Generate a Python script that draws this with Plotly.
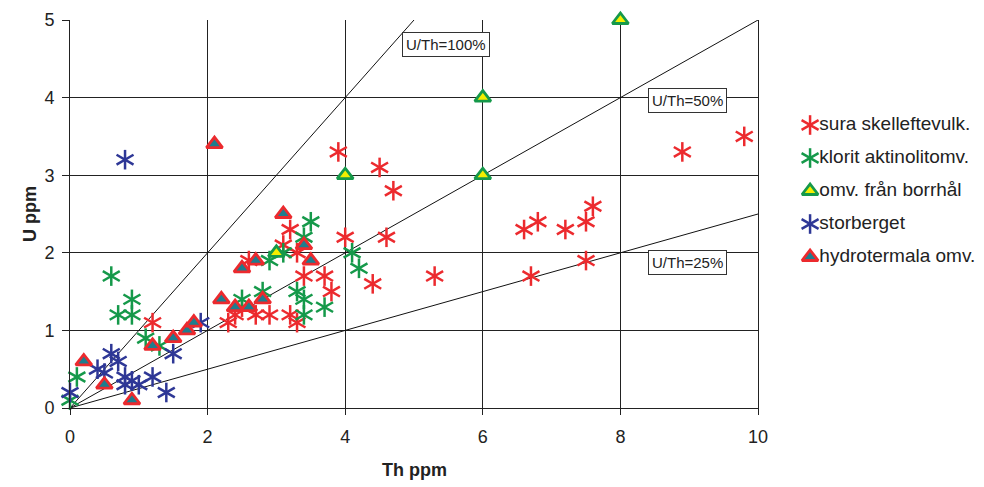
import plotly.graph_objects as go

# ---- data ----
sura_th = [1.2, 2.3, 2.4, 2.5, 2.7, 2.9, 3.2, 3.3, 2.6, 3.1, 3.2, 3.3, 3.4, 3.7, 3.8, 4.0, 4.4, 4.6,
           3.9, 4.5, 4.7, 5.3, 6.6, 6.8, 7.2, 7.5, 7.6, 7.5, 6.7, 8.9, 9.8]
sura_u = [1.1, 1.1, 1.2, 1.3, 1.2, 1.2, 1.2, 1.1, 1.9, 2.1, 2.3, 2.0, 1.7, 1.7, 1.5, 2.2, 1.6, 2.2,
          3.3, 3.1, 2.8, 1.7, 2.3, 2.4, 2.3, 2.4, 2.6, 1.9, 1.7, 3.3, 3.5]

klorit_th = [0.0, 0.1, 0.6, 0.7, 0.9, 0.9, 1.1, 1.3, 2.5, 2.8, 2.9, 3.1, 3.3, 3.4, 3.4, 3.4, 3.5, 3.7, 4.1, 4.2]
klorit_u = [0.1, 0.4, 1.7, 1.2, 1.2, 1.4, 0.9, 0.8, 1.4, 1.5, 1.9, 2.0, 1.5, 1.4, 1.2, 2.2, 2.4, 1.3, 2.0, 1.8]

borr_th = [3.0, 4.0, 6.0, 6.0, 8.0]
borr_u = [2.0, 3.0, 4.0, 3.0, 5.0]

storb_th = [0.0, 0.4, 0.5, 0.6, 0.7, 0.8, 0.8, 0.9, 1.0, 1.2, 1.4, 1.5, 1.9, 0.8]
storb_u = [0.2, 0.5, 0.45, 0.7, 0.6, 0.3, 0.4, 0.35, 0.3, 0.4, 0.2, 0.7, 1.1, 3.2]

hydro_th = [0.2, 0.5, 0.9, 1.2, 1.5, 1.7, 1.8, 2.2, 2.4, 2.6, 2.8, 2.5, 2.7, 3.1, 3.4, 3.5, 2.1]
hydro_u = [0.6, 0.3, 0.1, 0.8, 0.9, 1.0, 1.1, 1.4, 1.3, 1.3, 1.4, 1.8, 1.9, 2.5, 2.1, 1.9, 3.4]

ratio_values = [1.0, 0.5, 0.25]
ratio_labels = ["U/Th=100%", "U/Th=50%", "U/Th=25%"]
ratio_label_th = [5.47, 8.98, 8.97]
ratio_label_u = [4.69, 3.96, 1.88]
line_th = [0, 10]

legend_labels = ["sura skelleftevulk.", "klorit aktinolitomv.", "omv. från borrhål",
                 "storberget", "hydrotermala omv."]
legend_rows = [0, 1, 2, 3, 4]
legend_marker_x = [0.03]
legend_text_x = 0.085

x_ticks = [0, 2, 4, 6, 8, 10]
y_ticks = [0, 1, 2, 3, 4, 5]

RED = "#ec2a2e"
GREEN = "#15994a"
BLUE = "#2e3796"
TEAL = "#1e7d8e"
YELLOW = "#f4ee00"
FONT = "Liberation Sans, Arial"

fig = go.Figure()

# ratio lines
for r in ratio_values:
    fig.add_trace(go.Scatter(x=line_th, y=[t * r for t in line_th], mode="lines",
                             line=dict(color="#111", width=1), showlegend=False, hoverinfo="skip"))


def star(xs, ys, color, xa="x", ya="y", size=14):
    for ang in (0, 60, -60):
        fig.add_trace(go.Scatter(x=xs, y=ys, mode="markers", xaxis=xa, yaxis=ya,
                                 marker=dict(symbol="line-ns", size=size, angle=ang,
                                             line=dict(color=color, width=2.5)),
                                 showlegend=False, hoverinfo="skip", cliponaxis=False))


def tri(xs, ys, fill, edge, xa="x", ya="y"):
    fig.add_trace(go.Scatter(x=xs, y=ys, mode="markers", xaxis=xa, yaxis=ya,
                             marker=dict(symbol="triangle-up", size=14, color=fill,
                                         line=dict(color=edge, width=2.8)),
                             showlegend=False, hoverinfo="skip", cliponaxis=False))


star(sura_th, sura_u, RED)
star(klorit_th, klorit_u, GREEN)
tri(borr_th, borr_u, YELLOW, GREEN)
star(storb_th, storb_u, BLUE)
tri(hydro_th, hydro_u, TEAL, RED)

# ratio labels
for lx, ly, txt in zip(ratio_label_th, ratio_label_u, ratio_labels):
    fig.add_annotation(x=lx, y=ly, text=txt, showarrow=False, xref="x", yref="y",
                       font=dict(family=FONT, size=15, color="#222"),
                       bgcolor="white", bordercolor="#333", borderwidth=1, borderpad=3)

# legend (drawn on a helper axis)
star(legend_marker_x, [legend_rows[0]], RED, "x2", "y2")
star(legend_marker_x, [legend_rows[1]], GREEN, "x2", "y2")
tri(legend_marker_x, [legend_rows[2]], YELLOW, GREEN, "x2", "y2")
star(legend_marker_x, [legend_rows[3]], BLUE, "x2", "y2")
tri(legend_marker_x, [legend_rows[4]], TEAL, RED, "x2", "y2")
fig.add_trace(go.Scatter(x=[legend_text_x] * len(legend_labels), y=legend_rows, mode="text",
                         text=legend_labels, textposition="middle right",
                         textfont=dict(family=FONT, size=19, color="#222"),
                         xaxis="x2", yaxis="y2", showlegend=False, hoverinfo="skip",
                         cliponaxis=False))

# page has an 8px body margin; compensate
OFF = 8
L, R = 70 - OFF, 10
W, H = 984 - OFF, 487 - OFF
T, B = 20 - OFF, 79
PW = W - L - R
fig.update_layout(
    width=W, height=H,
    margin=dict(l=L, r=R, t=T, b=B, autoexpand=False),
    plot_bgcolor="white", paper_bgcolor="white",
    showlegend=False,
    font=dict(family=FONT, color="#222"),
    xaxis=dict(domain=[0, 688 / PW], range=[0, 10], tickvals=x_ticks, automargin=False,
               showgrid=True, gridcolor="#222", gridwidth=1, zeroline=False,
               showline=True, linecolor="#222", linewidth=1, mirror=False,
               ticks="outside", ticklen=6, tickcolor="#222", ticklabelstandoff=6,
               tickfont=dict(size=18)),
    yaxis=dict(domain=[0, 1], range=[0, 5], tickvals=y_ticks, automargin=False,
               showgrid=True, gridcolor="#222", gridwidth=1, zeroline=False,
               showline=True, linecolor="#222", linewidth=1, mirror=True,
               ticks="outside", ticklen=7, tickcolor="#222", ticklabelstandoff=4,
               tickfont=dict(size=18)),
    xaxis2=dict(domain=[(805 - 70) / PW, 1], range=[0, 1], visible=False, fixedrange=True,
                anchor="y2"),
    yaxis2=dict(domain=[0, 1], range=[8.576, -3.182], visible=False, fixedrange=True,
                anchor="x2"),
)
fig.add_annotation(text="<b>Th ppm</b>", x=5, y=-(470 - 408) / 388, xref="x", yref="paper",
                   yanchor="middle", showarrow=False,
                   font=dict(family=FONT, size=18, color="#222"))
fig.add_annotation(text="<b>U ppm</b>", x=-(70 - 30) / PW, y=(408 - 214) / 388,
                   xref="paper", yref="paper", xanchor="center", yanchor="middle",
                   showarrow=False, textangle=-90,
                   font=dict(family=FONT, size=18, color="#222"))

fig.write_html("out.html")
